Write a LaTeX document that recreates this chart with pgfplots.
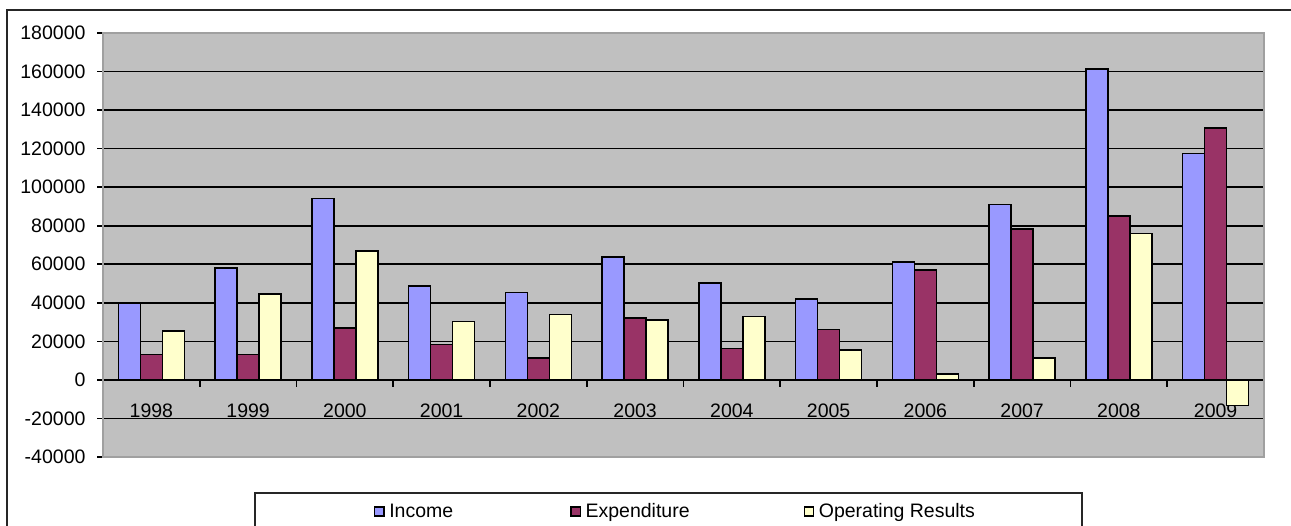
\documentclass[border=0pt]{standalone}
\usepackage{pgfplots}
\pgfplotsset{compat=1.18}
\usepackage{fontspec}
\setmainfont{Liberation Sans}

\definecolor{income}{HTML}{9999FF}
\definecolor{expend}{HTML}{993366}
\definecolor{oper}{HTML}{FFFFCC}
\definecolor{plotbg}{HTML}{C0C0C0}
\definecolor{framegray}{HTML}{A0A0A0}

\newcommand{\lbl}{\fontsize{19.5}{21}\selectfont}

\begin{document}
\begin{tikzpicture}[x=1pt,y=1pt]
\useasboundingbox (0,0) rectangle (1291,-526);
% chart border (cropped on right and bottom)
\draw[line width=1.6pt, black!85] (7,-10) rectangle (1320,-580);

\begin{axis}[
  at={(103pt,-457pt)}, anchor=south west,
  scale only axis, width=1161pt, height=424pt,
  xmin=-0.5, xmax=11.5,
  ymin=-40000, ymax=180000,
  axis background/.style={fill=plotbg},
  axis x line=middle, axis y line=left,
  axis line style={-, black, line width=1.6pt},
  ybar=0pt, bar width=0.227,
  xtick={0,...,11},
  xticklabels={1998,1999,2000,2001,2002,2003,2004,2005,2006,2007,2008,2009},
  minor xtick={0.5,1.5,...,11.5},
  major x tick style={draw=none},
  minor x tick style={line width=1.6pt, black},
  minor tick length=7pt,
  major tick length=6pt,
  tick align=outside,
  ytick={-40000,-20000,0,20000,40000,60000,80000,100000,120000,140000,160000,180000},
  yticklabels={-40000,-20000,0,20000,40000,60000,80000,100000,120000,140000,160000,180000},
  scaled y ticks=false,
  y tick style={line width=1.6pt, black},
  ymajorgrids,
  grid style={black, line width=1.6pt},
  tick label style={font=\lbl, text=black},
  xticklabel style={yshift=-14pt},
  yticklabel style={xshift=-8pt},
  legend columns=3,
  legend image code/.code={\draw[#1, line width=1.3pt, draw=black] (0pt,-4.5pt) rectangle (9.5pt,4.5pt);},
  legend style={draw=none, fill=none, font=\lbl, inner sep=0pt, outer sep=0pt,
    at={(0.2334,-0.1285)}, anchor=west,
    nodes={inner sep=0pt},
    /tikz/every odd column/.append style={column sep=4.5pt}},
]
\addplot[fill=income, draw=black, line width=1.5pt] coordinates {
  (0,39600) (1,58000) (2,94200) (3,48700) (4,45400) (5,63700)
  (6,50300) (7,42000) (8,61100) (9,90900) (10,161400) (11,117400)
};
\addlegendentry{\makebox[181pt][l]{Income}}
\addplot[fill=expend, draw=black, line width=1.5pt] coordinates {
  (0,13100) (1,13100) (2,27000) (3,18300) (4,11300) (5,32100)
  (6,16400) (7,26200) (8,56900) (9,78400) (10,85000) (11,130700)
};
\addlegendentry{\makebox[218pt][l]{Expenditure}}
\addplot[fill=oper, draw=black, line width=1.5pt] coordinates {
  (0,25300) (1,44700) (2,67000) (3,30400) (4,33900) (5,31200)
  (6,33000) (7,15500) (8,3000) (9,11400) (10,75900) (11,-13300)
};
\addlegendentry{Operating Results}
\end{axis}
% plot area frame
\draw[framegray, line width=2pt] (103,-33) rectangle (1264,-457);
% legend box (cropped at bottom)
\draw[line width=1.6pt, black!85] (255,-493) rectangle (1082,-580);
\end{tikzpicture}
\end{document}
